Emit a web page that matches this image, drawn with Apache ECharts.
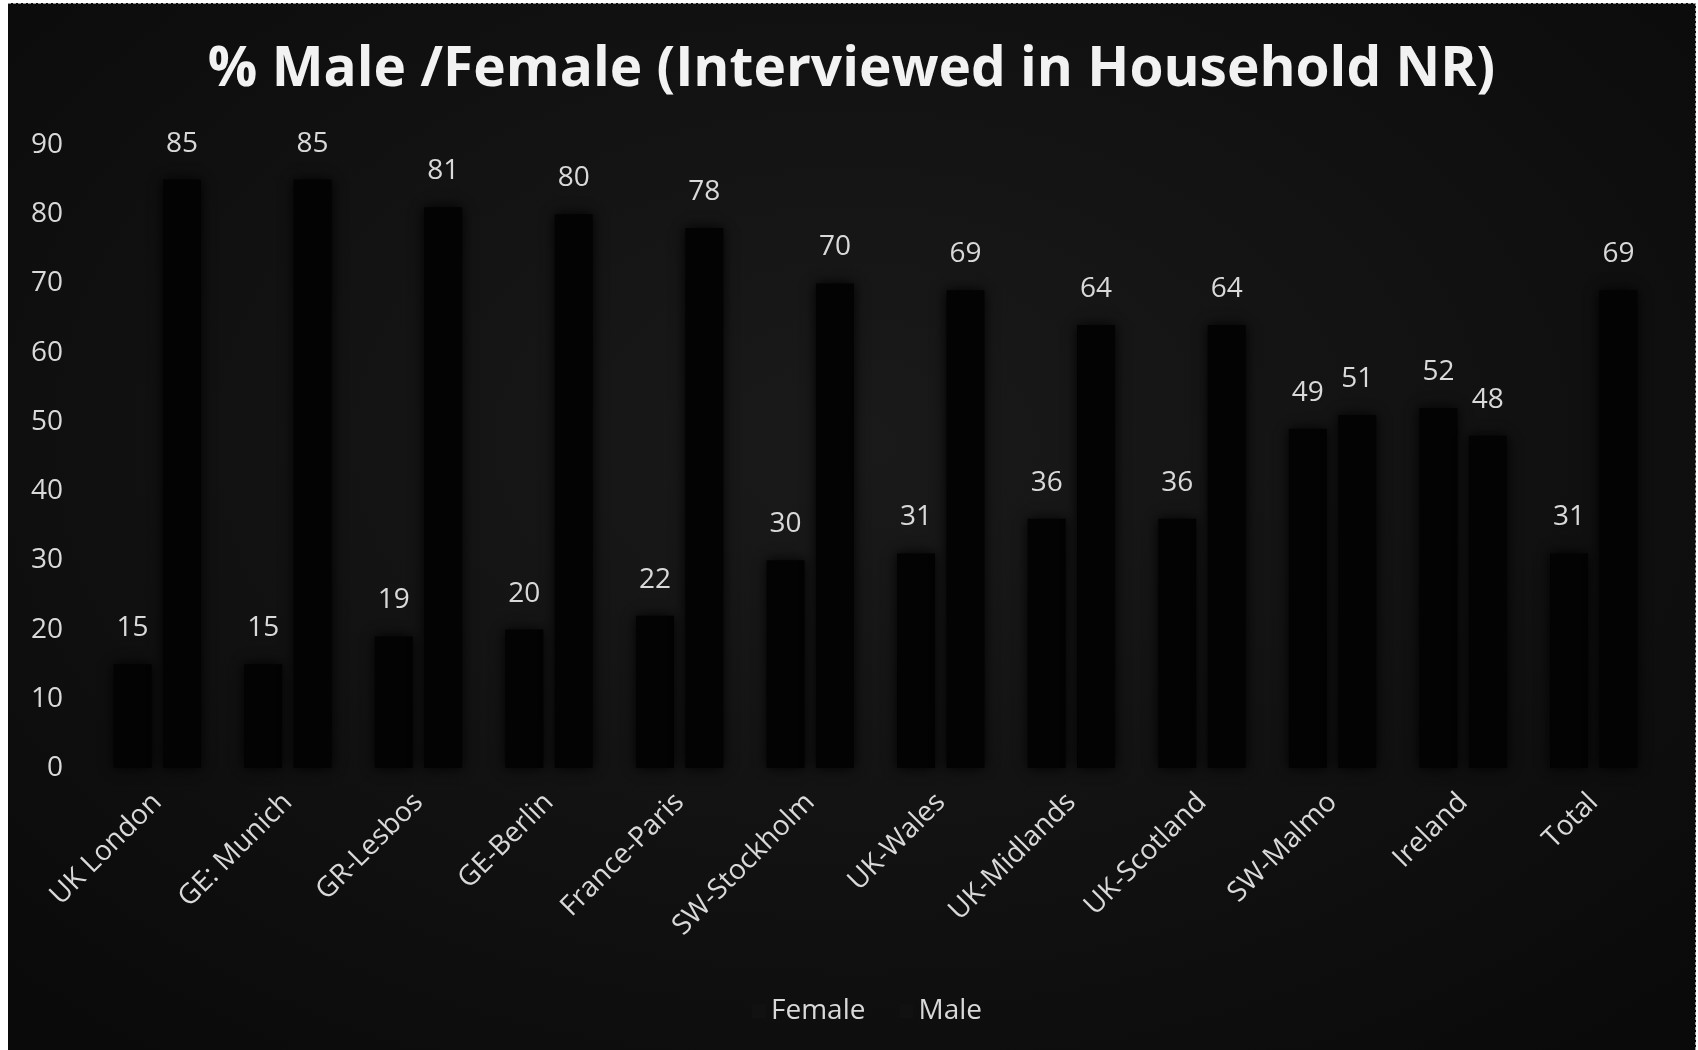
<!DOCTYPE html>
<html>
<head>
<meta charset="utf-8">
<script src="https://cdn.jsdelivr.net/npm/echarts@6/dist/echarts.min.js"></script>
<style>
  html, body { margin: 0; padding: 0; background: #ffffff; }
  #chart {
    position: absolute; left: 8px; top: 3px; width: 1688px; height: 1047px;
    background: radial-gradient(ellipse 70% 75% at 50% 42%, #1a1a1a 0%, #131313 45%, #0a0a0a 100%);
    border-top: 1px dashed #9a9a9a; border-right: 1px dashed #9a9a9a; box-sizing: border-box;
  }
</style>
</head>
<body>
<div id="chart"></div>
<script>
const categories = ['UK London', 'GE: Munich', 'GR-Lesbos', 'GE-Berlin', 'France-Paris', 'SW-Stockholm',
  'UK-Wales', 'UK-Midlands', 'UK-Scotland', 'SW-Malmo', 'Ireland', 'Total'];
const female = [15, 15, 19, 20, 22, 30, 31, 36, 36, 49, 52, 31];
const male = [85, 85, 81, 80, 78, 70, 69, 64, 64, 51, 48, 69];

const textColor = '#d9d9d9';
const font = '"Open Sans", "Noto Sans", sans-serif';

// bars are almost black with a soft blurred edge
const barStyle = {
  color: '#030303',
  shadowBlur: 12,
  shadowColor: 'rgba(0,0,0,0.95)'
};

const labelStyle = {
  show: true,
  position: 'top',
  distance: 22,
  color: textColor,
  fontSize: 28,
  fontFamily: font
};

const myChart = echarts.init(document.getElementById('chart'));
myChart.setOption({
  backgroundColor: 'transparent',
  animation: false,
  title: {
    text: '% Male /Female (Interviewed in Household NR)',
    left: 'center',
    top: 34,
    textStyle: { color: '#f2f2f2', fontSize: 55, fontWeight: 'bold', fontFamily: font }
  },
  legend: {
    data: ['Female', 'Male'],
    bottom: 20,
    left: 739,
    itemWidth: 14,
    itemHeight: 14,
    itemGap: 34,
    icon: 'rect',
    itemStyle: { color: '#111111', shadowBlur: 0 },
    textStyle: { color: textColor, fontSize: 28, fontFamily: font }
  },
  grid: { left: 84, right: 36, top: 141, bottom: 282 },
  xAxis: {
    type: 'category',
    data: categories,
    axisLine: { show: false },
    axisTick: { show: false },
    axisLabel: { rotate: 45, margin: 30, color: textColor, fontSize: 28, fontFamily: font }
  },
  yAxis: {
    type: 'value',
    min: 0,
    max: 90,
    interval: 10,
    splitLine: { show: false },
    axisLine: { show: false },
    axisLabel: { margin: 29, color: textColor, fontSize: 28, fontFamily: font }
  },
  series: [
    { name: 'Female', type: 'bar', data: female, barWidth: 38, barGap: '30%', itemStyle: barStyle, label: labelStyle },
    { name: 'Male', type: 'bar', data: male, barWidth: 38, itemStyle: barStyle, label: labelStyle }
  ]
});
window.onresize = function () {
  myChart.resize();
};
</script>
</body>
</html>
